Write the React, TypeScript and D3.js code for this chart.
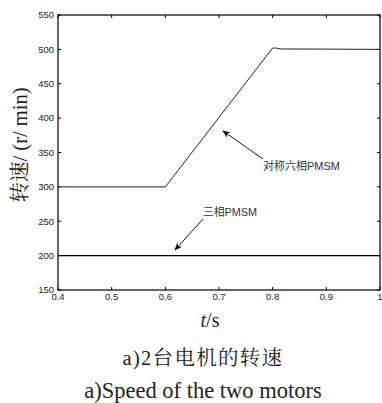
import React from "react";
import * as d3 from "d3";

const xTicks = [0.4, 0.5, 0.6, 0.7, 0.8, 0.9, 1];
const yTicks = [150, 200, 250, 300, 350, 400, 450, 500, 550];
const sixPhaseT = [0.4, 0.6, 0.8, 0.805, 0.815, 0.9, 1.0];
const sixPhaseV = [300, 300, 502, 502, 500.6, 500.4, 500];
const threePhaseT = [0.4, 1.0];
const threePhaseV = [200, 200];
const yLabel = "转速/ (r/ min)";
const xLabelItalic = "t";
const xLabelRest = "/s";
const caption1 = "a)2台电机的转速";
const caption2 = "a)Speed of the two motors";
const annot6 = "对称六相PMSM";
const annot3 = "三相PMSM";

export default function App() {
  const W = 382, H = 403;
  const L = 58, R = 380, T = 15, B = 290;
  const x = d3.scaleLinear().domain([0.4, 1]).range([L, R]);
  const y = d3.scaleLinear().domain([150, 550]).range([B, T]);
  const line = d3.line<[number, number]>().x(d => x(d[0])).y(d => y(d[1]));
  const six = sixPhaseT.map((t, i) => [t, sixPhaseV[i]] as [number, number]);
  const three = threePhaseT.map((t, i) => [t, threePhaseV[i]] as [number, number]);
  const tickFont = "'Liberation Sans', Arial, sans-serif";
  const serif = "'Liberation Serif', 'Times New Roman', 'Noto Serif CJK SC', serif";
  const cjkSans = "'Liberation Sans', Arial, 'Noto Sans CJK SC', sans-serif";
  const tl = 3;
  return (
    <svg width={W} height={H} style={{ position: "absolute", left: 0, top: 0, background: "#fff" }}>
      <defs>
        <marker id="ah" viewBox="0 0 10 10" refX="9" refY="5" markerWidth="8" markerHeight="8" orient="auto-start-reverse" markerUnits="userSpaceOnUse">
          <path d="M0,1 L10,5 L0,9 L3,5 Z" fill="#000" />
        </marker>
      </defs>
      <rect x={L} y={T} width={R - L} height={B - T} fill="#fff" stroke="#000" strokeWidth={1.2} />
      {xTicks.map(t => (
        <g key={"x" + t}>
          <line x1={x(t)} x2={x(t)} y1={B} y2={B - tl} stroke="#000" />
          <line x1={x(t)} x2={x(t)} y1={T} y2={T + tl} stroke="#000" />
          <text x={x(t)} y={300} textAnchor="middle" fontFamily={tickFont} fontSize={9.5} fill="#222">{String(t)}</text>
        </g>
      ))}
      {yTicks.map(v => (
        <g key={"y" + v}>
          <line x1={L} x2={L + tl} y1={y(v)} y2={y(v)} stroke="#000" />
          <line x1={R} x2={R - tl} y1={y(v)} y2={y(v)} stroke="#000" />
          <text x={54} y={y(v) + 3.3} textAnchor="end" fontFamily={tickFont} fontSize={9.5} fill="#222">{v}</text>
        </g>
      ))}
      <path d={line(six) || ""} fill="none" stroke="#222" strokeWidth={1} />
      <path d={line(three) || ""} fill="none" stroke="#000" strokeWidth={1.4} />
      <line x1={263} y1={159} x2={223} y2={131} stroke="#000" strokeWidth={0.9} markerEnd="url(#ah)" />
      <text x={263} y={170} fontFamily={cjkSans} fontSize={11} fill="#333">{annot6}</text>
      <line x1={203} y1={219} x2={175} y2={250} stroke="#000" strokeWidth={0.9} markerEnd="url(#ah)" />
      <text x={203} y={216} fontFamily={cjkSans} fontSize={10.8} fill="#333">{annot3}</text>
      <text transform={`translate(27,145) rotate(-90)`} textAnchor="middle" fontFamily={serif} fontSize={20.5} fill="#222">{yLabel}</text>
      <text x={210} y={327} textAnchor="middle" fontFamily={serif} fontSize={20} fill="#222">
        <tspan fontStyle="italic">{xLabelItalic}</tspan>{xLabelRest}
      </text>
      <text x={203} y={365} textAnchor="middle" fontFamily={serif} fontSize={20.5} letterSpacing={1.3} fill="#222">{caption1}</text>
      <text x={203} y={398} textAnchor="middle" fontFamily={serif} fontSize={22.5} fill="#222">{caption2}</text>
    </svg>
  );
}
